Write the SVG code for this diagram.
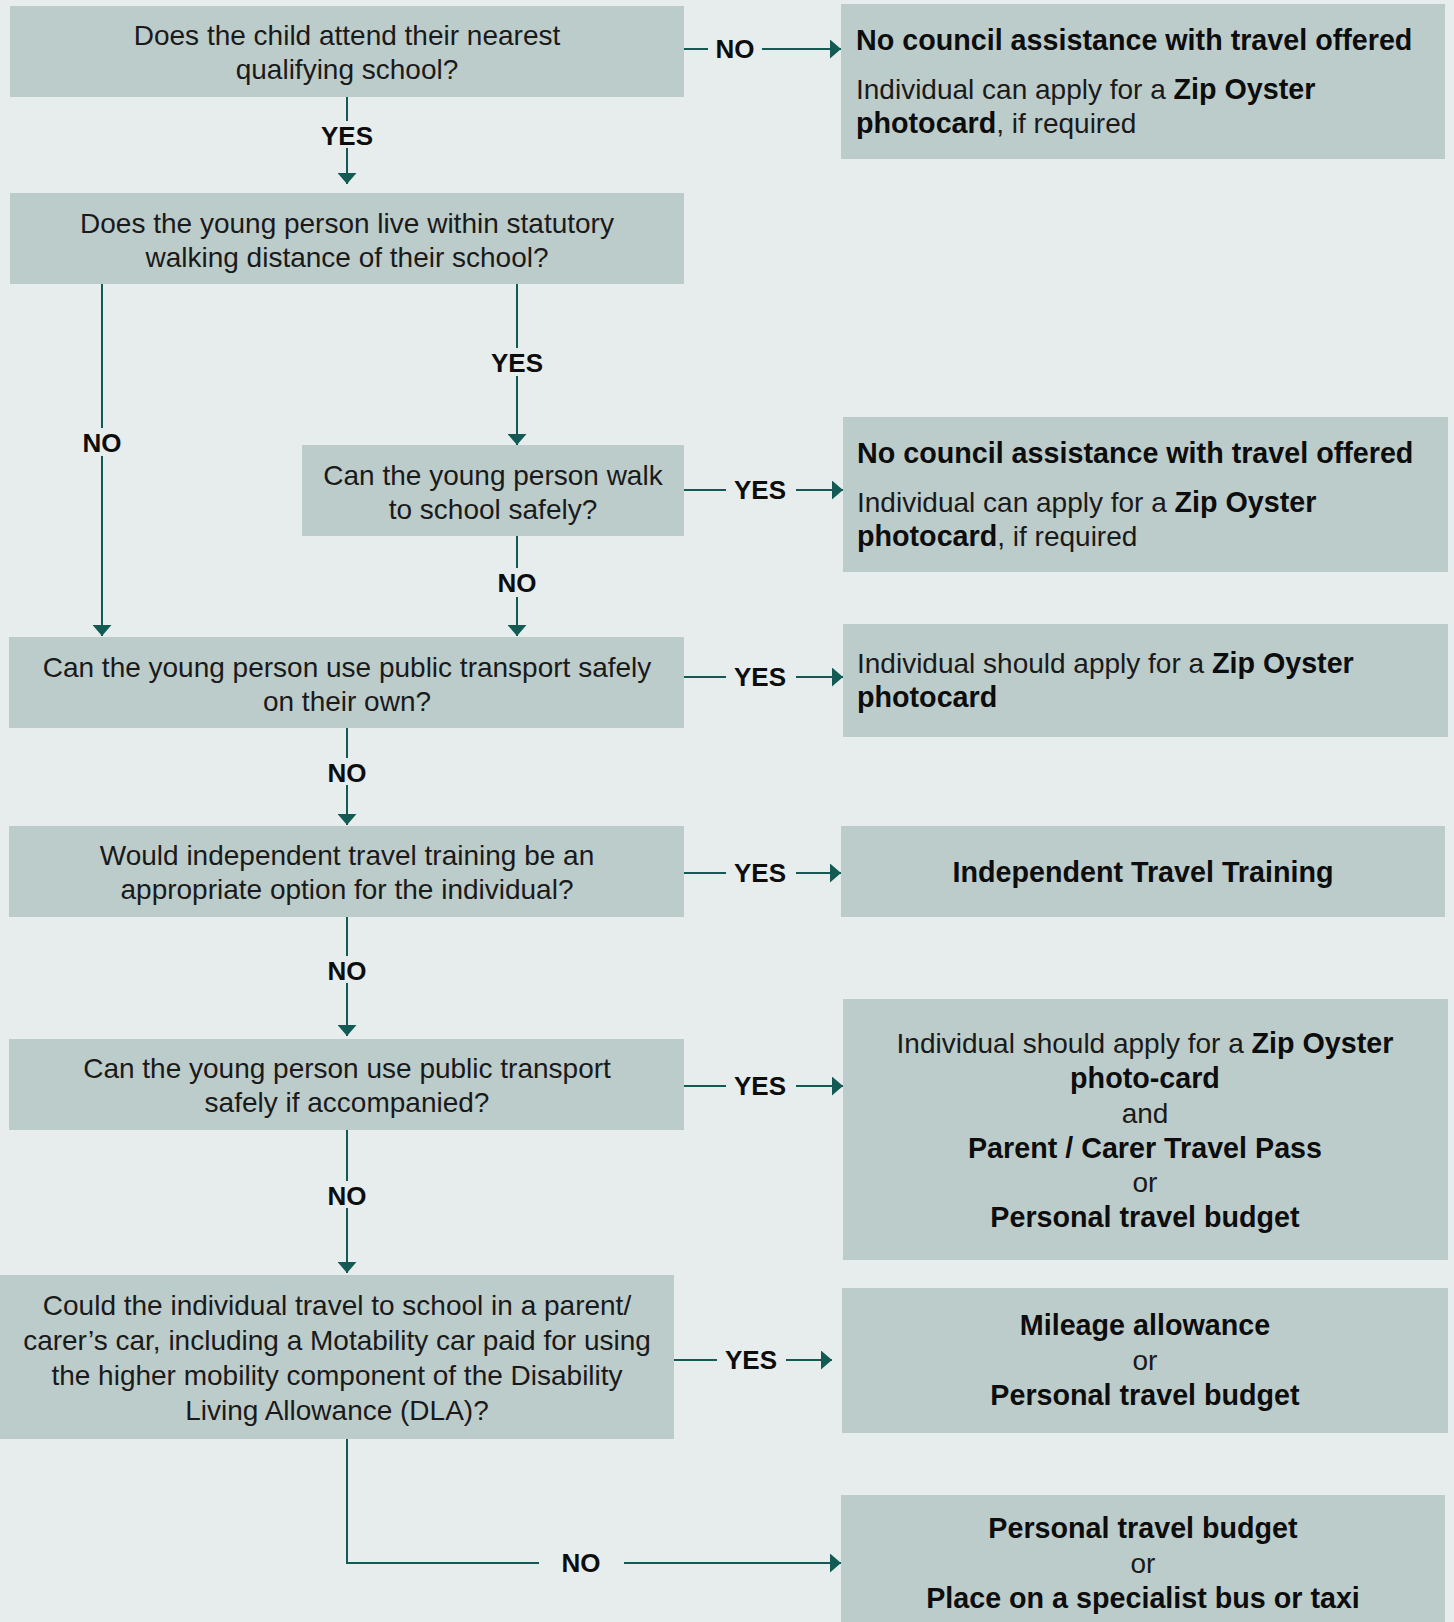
<svg xmlns="http://www.w3.org/2000/svg" width="1454" height="1622" viewBox="0 0 1454 1622">
  <style>
    .box { fill: #bccccb; }
    .t { font-family: "Liberation Sans", Arial, Helvetica, sans-serif; font-size: 28px; fill: #1a1a1a; }
    .c { text-anchor: middle; }
    .b { font-weight: bold; fill: #0d0d0d; font-size: 28.7px; }
    .lbl { font-family: "Liberation Sans", Arial, Helvetica, sans-serif; font-size: 26px; font-weight: bold; fill: #0d0d0d; text-anchor: middle; }
    .ln { fill: none; stroke: #135a54; stroke-width: 2; }
    .arr { marker-end: url(#ah); }
  </style>
  <defs>
    <marker id="ah" markerUnits="userSpaceOnUse" markerWidth="12" markerHeight="19" refX="11" refY="9.5" orient="auto">
      <path d="M0,0 L11,9.5 L0,19 Z" fill="#135a54"/>
    </marker>
  </defs>
  <rect x="0" y="0" width="1454" height="1622" fill="#e7edec"/>

  <g id="q1">
    <rect class="box" x="10" y="6" width="674" height="91"/>
    <text class="t c" x="347" y="45">Does the child attend their nearest</text>
    <text class="t c" x="347" y="79">qualifying school?</text>
  </g>
  <g id="r1">
    <rect class="box" x="841" y="4" width="604" height="155"/>
    <text class="t b" x="856" y="50">No council assistance with travel offered</text>
    <text class="t" x="856" y="99">Individual can apply for a <tspan class="b">Zip Oyster</tspan></text>
    <text class="t" x="856" y="133"><tspan class="b">photocard</tspan>, if required</text>
  </g>
  <g id="q2">
    <rect class="box" x="10" y="193" width="674" height="91"/>
    <text class="t c" x="347" y="233">Does the young person live within statutory</text>
    <text class="t c" x="347" y="267">walking distance of their school?</text>
  </g>
  <g id="q3">
    <rect class="box" x="302" y="445" width="382" height="91"/>
    <text class="t c" x="493" y="485">Can the young person walk</text>
    <text class="t c" x="493" y="519">to school safely?</text>
  </g>
  <g id="r2">
    <rect class="box" x="843" y="417" width="605" height="155"/>
    <text class="t b" x="857" y="463">No council assistance with travel offered</text>
    <text class="t" x="857" y="512">Individual can apply for a <tspan class="b">Zip Oyster</tspan></text>
    <text class="t" x="857" y="546"><tspan class="b">photocard</tspan>, if required</text>
  </g>
  <g id="q4">
    <rect class="box" x="9" y="637" width="675" height="91"/>
    <text class="t c" x="347" y="677">Can the young person use public transport safely</text>
    <text class="t c" x="347" y="711">on their own?</text>
  </g>
  <g id="r3">
    <rect class="box" x="843" y="624" width="605" height="113"/>
    <text class="t" x="857" y="673">Individual should apply for a <tspan class="b">Zip Oyster</tspan></text>
    <text class="t b" x="857" y="707">photocard</text>
  </g>
  <g id="q5">
    <rect class="box" x="9" y="826" width="675" height="91"/>
    <text class="t c" x="347" y="865">Would independent travel training be an</text>
    <text class="t c" x="347" y="899">appropriate option for the individual?</text>
  </g>
  <g id="r4">
    <rect class="box" x="841" y="826" width="604" height="91"/>
    <text class="t b c" x="1143" y="882">Independent Travel Training</text>
  </g>
  <g id="q6">
    <rect class="box" x="9" y="1039" width="675" height="91"/>
    <text class="t c" x="347" y="1078">Can the young person use public transport</text>
    <text class="t c" x="347" y="1112">safely if accompanied?</text>
  </g>
  <g id="r5">
    <rect class="box" x="843" y="999" width="605" height="261"/>
    <text class="t c" x="1145" y="1053">Individual should apply for a <tspan class="b">Zip Oyster</tspan></text>
    <text class="t b c" x="1145" y="1088">photo-card</text>
    <text class="t c" x="1145" y="1123">and</text>
    <text class="t b c" x="1145" y="1158">Parent / Carer Travel Pass</text>
    <text class="t c" x="1145" y="1192">or</text>
    <text class="t b c" x="1145" y="1227">Personal travel budget</text>
  </g>
  <g id="q7">
    <rect class="box" x="0" y="1275" width="674" height="164"/>
    <text class="t c" x="337" y="1315">Could the individual travel to school in a parent/</text>
    <text class="t c" x="337" y="1350">carer’s car, including a Motability car paid for using</text>
    <text class="t c" x="337" y="1385">the higher mobility component of the Disability</text>
    <text class="t c" x="337" y="1420">Living Allowance (DLA)?</text>
  </g>
  <g id="r6">
    <rect class="box" x="842" y="1288" width="606" height="145"/>
    <text class="t b c" x="1145" y="1335">Mileage allowance</text>
    <text class="t c" x="1145" y="1370">or</text>
    <text class="t b c" x="1145" y="1405">Personal travel budget</text>
  </g>
  <g id="r7">
    <rect class="box" x="841" y="1495" width="604" height="140"/>
    <text class="t b c" x="1143" y="1538">Personal travel budget</text>
    <text class="t c" x="1143" y="1573">or</text>
    <text class="t b c" x="1143" y="1608">Place on a specialist bus or taxi</text>
  </g>

  <g id="connectors">
    <path class="ln" d="M684,49 H708"/>
    <path class="ln arr" d="M762,49 H841"/>
    <text class="lbl" x="735" y="58">NO</text>
    <path class="ln" d="M347,97 V121"/>
    <path class="ln arr" d="M347,148 V184"/>
    <text class="lbl" x="347" y="145">YES</text>
    <path class="ln" d="M102,284 V428"/>
    <path class="ln arr" d="M102,456 V636"/>
    <text class="lbl" x="102" y="452">NO</text>
    <path class="ln" d="M517,284 V348"/>
    <path class="ln arr" d="M517,376 V445"/>
    <text class="lbl" x="517" y="372">YES</text>
    <path class="ln" d="M684,490 H726"/>
    <path class="ln arr" d="M796,490 H843"/>
    <text class="lbl" x="760" y="499">YES</text>
    <path class="ln" d="M517,536 V568"/>
    <path class="ln arr" d="M517,597 V636"/>
    <text class="lbl" x="517" y="592">NO</text>
    <path class="ln" d="M684,677 H726"/>
    <path class="ln arr" d="M796,677 H843"/>
    <text class="lbl" x="760" y="686">YES</text>
    <path class="ln" d="M347,728 V758"/>
    <path class="ln arr" d="M347,785 V825"/>
    <text class="lbl" x="347" y="782">NO</text>
    <path class="ln" d="M684,873 H726"/>
    <path class="ln arr" d="M796,873 H841"/>
    <text class="lbl" x="760" y="882">YES</text>
    <path class="ln" d="M347,917 V956"/>
    <path class="ln arr" d="M347,983 V1036"/>
    <text class="lbl" x="347" y="980">NO</text>
    <path class="ln" d="M684,1086 H726"/>
    <path class="ln arr" d="M796,1086 H843"/>
    <text class="lbl" x="760" y="1095">YES</text>
    <path class="ln" d="M347,1130 V1181"/>
    <path class="ln arr" d="M347,1208 V1273"/>
    <text class="lbl" x="347" y="1205">NO</text>
    <path class="ln" d="M674,1360 H717"/>
    <path class="ln arr" d="M786,1360 H832"/>
    <text class="lbl" x="751" y="1369">YES</text>
    <path class="ln" d="M347,1439 V1563 H539"/>
    <path class="ln arr" d="M624,1563 H841"/>
    <text class="lbl" x="581" y="1572">NO</text>
  </g>
</svg>
